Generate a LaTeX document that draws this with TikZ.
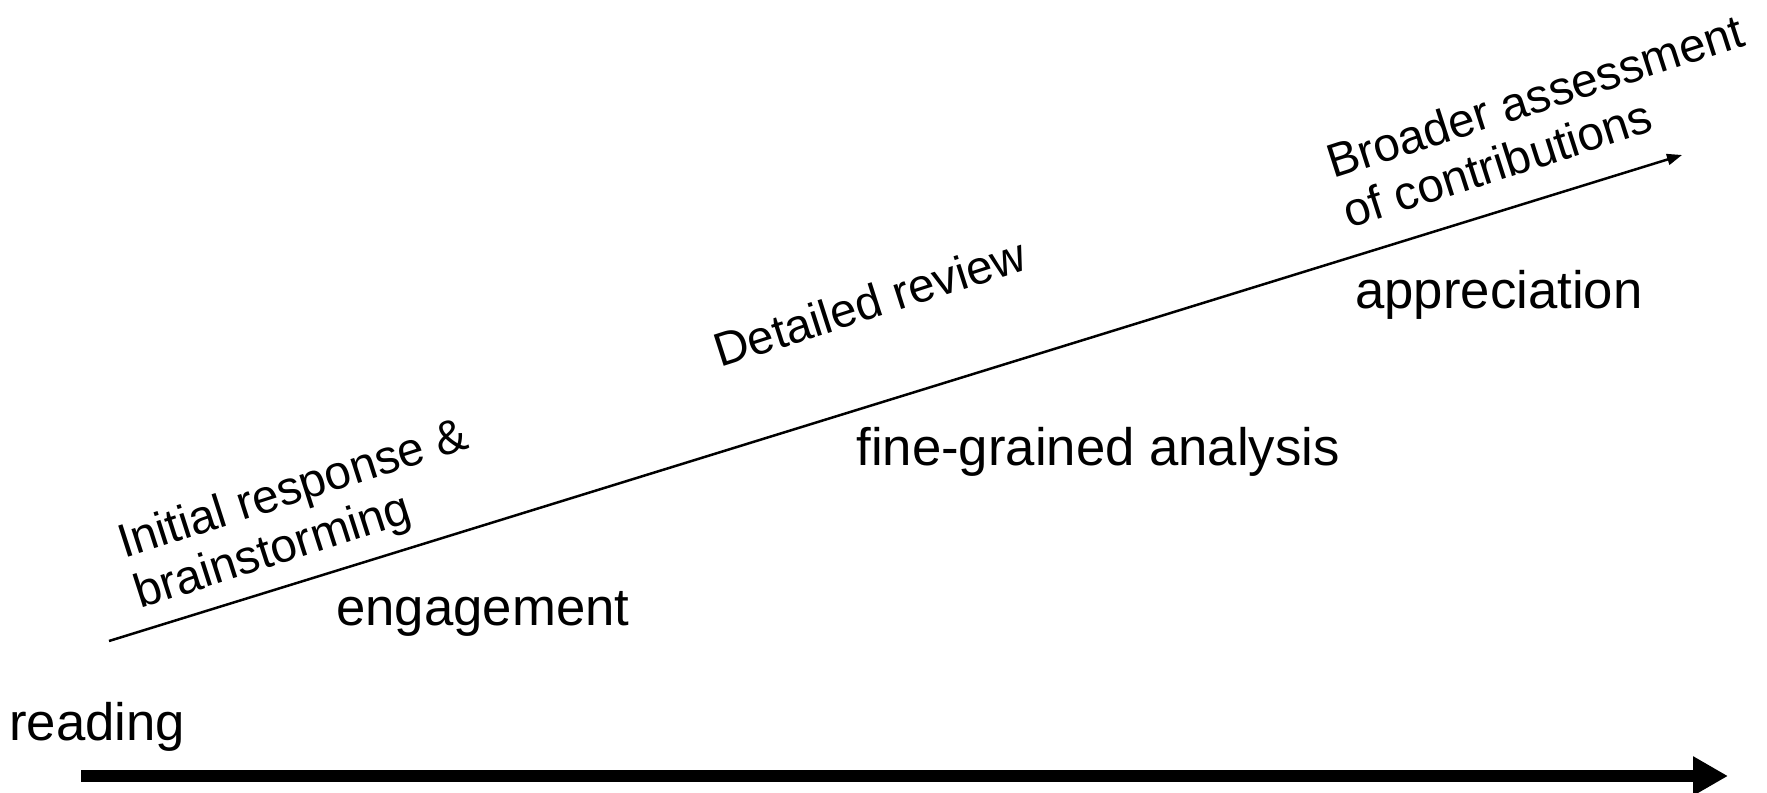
\documentclass[tikz,border=0pt]{standalone}
\usepackage{fontspec}
\setmainfont{Liberation Sans}
\usepackage{tikz}
\usetikzlibrary{arrows.meta}
\usetikzlibrary{positioning}
\tikzstyle{stage} = [inner sep=0pt, anchor=base west, font=\fontsize{30}{36}\selectfont]
\tikzstyle{task} = [inner sep=0pt, anchor=base west, rotate=17.8, align=left,
                    font=\fontsize{27}{30}\selectfont]
\tikzstyle{axis} = [draw, line width=0.24cm, -{Triangle[length=0.7cm, width=0.74cm]}]
\tikzstyle{progress} = [draw, line width=0.05cm, -{Triangle[length=0.3cm, width=0.22cm]}]

\begin{document}
\begin{tikzpicture}[x=0.02cm, y=-0.02cm]
  \useasboundingbox (0,0) rectangle (1767,793);
  % Place nodes
  % base of a two-line node sits on its last line
  \node [task] (initial) at (140,609) {Initial response \&\\brainstorming};
  \node [task] (detailed) at (720,368) {Detailed review};
  \node [task] (broader) at (1349,229) {Broader assessment\\of contributions};
  \node [stage] (engagement) at (336,625) {engagement};
  \node [stage] (analysis) at (856,465) {fine-grained analysis};
  \node [stage] (appreciation) at (1355,309) {appreciation};
  \node [stage] (reading) at (9,740) {reading};

  \coordinate (lowstart) at (109,641);
  \coordinate (highend) at (1682,155);
  \coordinate (readstart) at (81,776);
  \coordinate (readend) at (1728,776);

  % Draw edges
  \path [progress] (lowstart) -- (highend);
  \path [axis] (readstart) -- (readend);
\end{tikzpicture}
\end{document}
